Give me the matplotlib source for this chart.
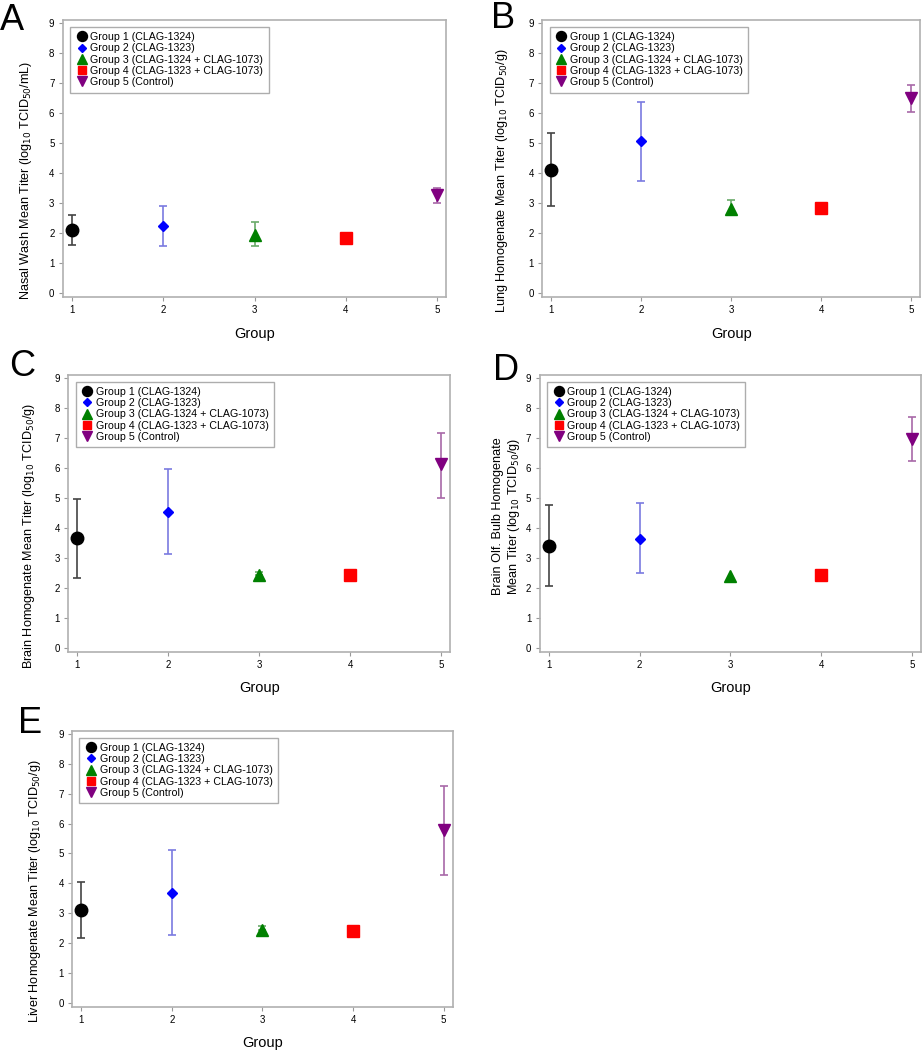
import numpy as np
import matplotlib
matplotlib.use('Agg')
import matplotlib.pyplot as plt

plt.rcParams['font.family'] = ['Liberation Sans', 'DejaVu Sans']

groups = [1, 2, 3, 4, 5]
group_labels = ['Group 1 (CLAG-1324)', 'Group 2 (CLAG-1323)',
                'Group 3 (CLAG-1324 + CLAG-1073)', 'Group 4 (CLAG-1323 + CLAG-1073)',
                'Group 5 (Control)']

# mean titers and error bar bounds per panel
nasal_mean = [2.10, 2.23, 1.95, 1.84, 3.26]
nasal_low = [1.61, 1.56, 1.57, 1.84, 3.00]
nasal_high = [2.62, 2.92, 2.38, 1.84, 3.51]

lung_mean = [4.11, 5.06, 2.82, 2.84, 6.51]
lung_low = [2.92, 3.74, 2.60, 2.76, 6.03]
lung_high = [5.32, 6.38, 3.10, 2.92, 6.94]

brain_mean = [3.66, 4.54, 2.42, 2.44, 6.13]
brain_low = [2.35, 3.14, 2.42, 2.44, 4.99]
brain_high = [4.97, 5.98, 2.52, 2.44, 7.18]

bulb_mean = [3.40, 3.65, 2.39, 2.45, 6.98]
bulb_low = [2.07, 2.50, 2.39, 2.45, 6.24]
bulb_high = [4.75, 4.82, 2.39, 2.45, 7.69]

liver_mean = [3.12, 3.68, 2.43, 2.42, 5.78]
liver_low = [2.19, 2.27, 2.43, 2.42, 4.27]
liver_high = [4.05, 5.10, 2.58, 2.42, 7.26]

markers = ['o', 'D', '^', 's', 'v']
colors = ['black', 'blue', 'green', 'red', 'purple']
err_colors = ['#444444', '#7a7ae0', '#6aaa6a', '#ff8080', '#a868a8']
msizes = [9, 5.6, 8.5, 8, 8.5]

panels = [
    ('A', 'Nasal Wash Mean Titer (log$_{10}$ TCID$_{50}$/mL)', nasal_mean, nasal_low, nasal_high,
     [0.068, 0.717, 0.415, 0.264], (0.0, 0.997), (-0.075, 0.42)),
    ('B', 'Lung Homogenate Mean Titer (log$_{10}$ TCID$_{50}$/g)', lung_mean, lung_low, lung_high,
     [0.587, 0.717, 0.409, 0.264], (0.531, 0.999), (-0.087, 0.42)),
    ('C', 'Brain Homogenate Mean Titer (log$_{10}$ TCID$_{50}$/g)', brain_mean, brain_low, brain_high,
     [0.074, 0.379, 0.413, 0.264], (0.010, 0.668), (-0.081, 0.42)),
    ('D', 'Brain Olf. Bulb Homogenate\nMean Titer (log$_{10}$ TCID$_{50}$/g)', bulb_mean, bulb_low, bulb_high,
     [0.584, 0.379, 0.413, 0.264], (0.534, 0.664), (-0.045, 0.49)),
    ('E', 'Liver Homogenate Mean Titer (log$_{10}$ TCID$_{50}$/g)', liver_mean, liver_low, liver_high,
     [0.078, 0.041, 0.412, 0.263], (0.020, 0.328), (-0.076, 0.42)),
]

fig = plt.figure(figsize=(9.24, 10.5), dpi=100)

for letter, ylabel, mean, low, high, pos, lpos, ypos in panels:
    ax = fig.add_axes(pos)
    for i in range(5):
        lo = mean[i] - low[i]
        hi = high[i] - mean[i]
        if lo > 0 or hi > 0:
            ax.errorbar(groups[i], mean[i], yerr=[[lo], [hi]], fmt='none',
                        ecolor=err_colors[i], elinewidth=1.2, capsize=3.2, capthick=1.2)
        ax.plot(groups[i], mean[i], marker=markers[i], color=colors[i],
                markersize=msizes[i], linestyle='none', label=group_labels[i], zorder=3)
    ax.set_xlim(0.9, 5.1)
    ax.set_ylim(-0.13, 9.1)
    ax.set_xticks(groups)
    ax.set_yticks(range(10))
    ax.tick_params(labelsize=7, length=3, width=0.8, color='#999999', pad=3)
    for s in ax.spines.values():
        s.set_color('#b0b0b0')
        s.set_linewidth(1.2)
    ax.set_xlabel('Group', fontsize=10.5, labelpad=8)
    ax.set_ylabel(ylabel, fontsize=9.1)
    ax.yaxis.set_label_coords(*ypos)
    leg = ax.legend(loc='upper left', fontsize=7.7, frameon=True, fancybox=False,
                    handletextpad=0.2, handlelength=1.2, labelspacing=0.12,
                    borderpad=0.5, markerscale=0.8, bbox_to_anchor=(0.005, 0.995))
    leg.get_frame().set_edgecolor('#999999')
    leg.get_frame().set_linewidth(1.0)
    fig.text(lpos[0], lpos[1], letter, fontsize=26, ha='left', va='top')

fig.savefig('out.png', dpi=100)
